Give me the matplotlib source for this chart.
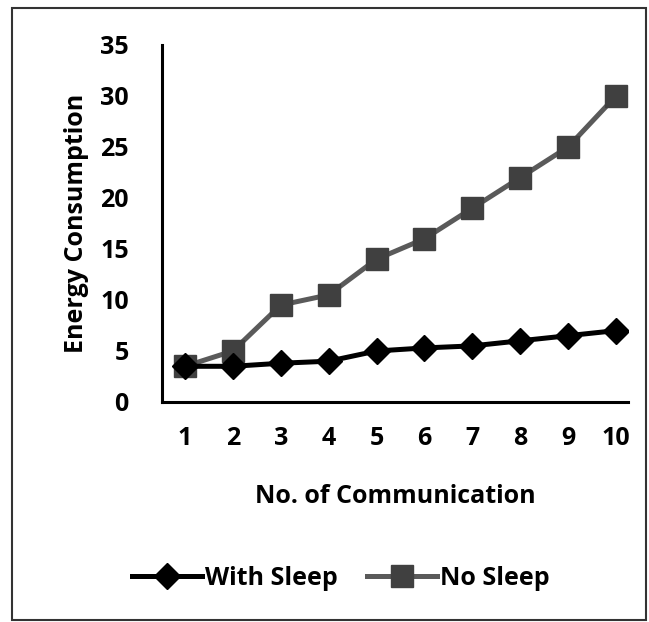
import matplotlib
matplotlib.use("Agg")
import matplotlib.pyplot as plt
from matplotlib.patches import Rectangle

x = [1, 2, 3, 4, 5, 6, 7, 8, 9, 10]
with_sleep = [3.5, 3.5, 3.8, 4.0, 5.0, 5.3, 5.5, 6.0, 6.5, 7.0]
no_sleep = [3.5, 5.0, 9.5, 10.5, 14.0, 16.0, 19.0, 22.0, 25.0, 30.0]
y_ticks = [0, 5, 10, 15, 20, 25, 30, 35]

plt.rcParams['font.family'] = ['Open Sans', 'DejaVu Sans']
plt.rcParams['font.weight'] = 'bold'

FS = 18

fig = plt.figure(figsize=(6.49, 6.22), dpi=100)
ax = fig.add_axes([0.2496, 0.3537, 0.718, 0.574])

ax.plot(x, with_sleep, color='black', lw=3.6, marker='D', ms=13,
        mfc='black', mec='black', label='With Sleep', zorder=3)
ax.plot(x, no_sleep, color='#5a5a5a', lw=3.6, marker='s', ms=15.5,
        mfc='#404040', mec='#404040', label='No Sleep', zorder=2)

ax.set_xlim(0.52, 10.25)
ax.set_ylim(0, 35)
ax.set_xticks(x)
ax.set_yticks(y_ticks)
for s in ['top', 'right']:
    ax.spines[s].set_visible(False)
for s in ['left', 'bottom']:
    ax.spines[s].set_linewidth(2.2)
    ax.spines[s].set_color('black')
ax.tick_params(axis='both', length=0, labelsize=FS)
ax.tick_params(axis='y', pad=24)
ax.tick_params(axis='x', pad=17)
for lab in ax.get_xticklabels() + ax.get_yticklabels():
    lab.set_fontweight('bold')

ax.set_xlabel('No. of Communication', fontsize=FS, fontweight='bold', labelpad=24)
ax.set_ylabel('Energy Consumption', fontsize=FS, fontweight='bold', labelpad=8)

leg = fig.legend(loc='center', bbox_to_anchor=(0.525, 0.07), ncol=2, frameon=False,
                 prop={'size': FS, 'weight': 'bold'}, handlelength=2.8,
                 handletextpad=0.1, columnspacing=1.2, markerscale=1.0)

fig.patches.append(Rectangle((12 / 649, 2 / 622), 634 / 649, 612 / 622,
                             transform=fig.transFigure, fill=False,
                             edgecolor='#333333', lw=1.5))

fig.savefig('out.png', dpi=100)
